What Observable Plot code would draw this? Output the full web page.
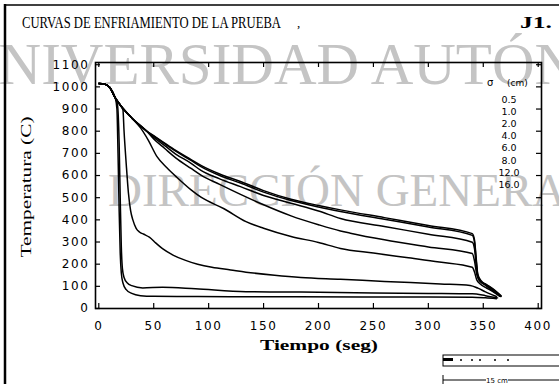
<!DOCTYPE html>
<html><head><meta charset="utf-8">
<script src="https://cdn.jsdelivr.net/npm/d3@7"></script>
<script src="https://cdn.jsdelivr.net/npm/@observablehq/plot@0.6"></script>
<style>
html,body{margin:0;padding:0;background:#fff;}
#wrap{position:relative;width:559px;height:384px;overflow:hidden;background:#fff;}
#wrap svg{position:absolute;left:0;top:0;}
#wrap g[aria-label$="tick label"]{letter-spacing:1.6px;}
</style></head><body><div id="wrap">
<svg id="wm" width="559" height="384">
  <text x="-44" y="84" font-family="Liberation Serif" font-size="59" fill="#c4c4c4">UNIVERSIDAD AUTÓNOMA DE NUEVO LEÓN</text>
  <text x="108" y="206" font-family="Liberation Serif" font-size="47" fill="#c4c4c4">DIRECCIÓN GENERAL DE BIBLIOTECAS</text>
</svg>
</div>
<script>
// Diámetros (cm)
const diameters = ["0.5", "1.0", "2.0", "4.0", "6.0", "8.0", "12.0", "16.0"];

// Tiempo (seg) y Temperatura (C) por curva
const t_05 = [0, 5, 10, 15, 16.5, 17.5, 18.5, 19.5, 20.5, 22, 25, 30, 38, 50, 80, 120, 180, 240, 300, 340, 352, 362];
const T_05 = [1015, 1013, 997, 950, 900, 700, 450, 250, 160, 115, 85, 68, 58, 55, 54, 53, 53, 52, 52, 51, 48, 44];

const t_10 = [0, 5, 10, 15, 17, 18.5, 19.5, 20.5, 21.5, 23, 26, 30, 40, 58, 88, 134, 184, 250, 300, 340, 352, 363];
const T_10 = [1015, 1013, 997, 950, 920, 750, 500, 280, 180, 140, 115, 103, 93, 96, 89, 76, 74, 70, 68, 66, 58, 48];

const t_20 = [0, 5, 10, 15, 20, 22, 23, 25, 27, 29, 31, 34, 37, 41, 46, 52, 58, 68, 79, 90, 103, 120, 134, 160, 184, 220, 260, 311, 338, 345, 352, 362];
const T_20 = [1015, 1013, 997, 950, 915, 895, 800, 650, 520, 440, 400, 362, 345, 335, 322, 295, 270, 240, 217, 200, 186, 174, 164, 150, 140, 132, 122, 111, 104, 92, 75, 54];

const t_40 = [0, 5, 10, 15, 20, 30, 38, 45, 53, 62, 71, 84, 93, 114, 134, 150, 175, 200, 220, 250, 280, 310, 340, 342, 344, 347, 352, 358, 365];
const T_40 = [1015, 1013, 997, 950, 915, 860, 815, 760, 685, 635, 592, 535, 502, 450, 392, 362, 325, 298, 271, 250, 230, 210, 186, 165, 130, 112, 95, 78, 55];

const t_60 = [0, 5, 10, 15, 20, 30, 43, 50, 60, 70, 84, 93, 110, 129, 150, 175, 200, 220, 229, 260, 300, 340, 342, 344, 346, 350, 358, 366];
const T_60 = [1015, 1013, 997, 950, 915, 860, 803, 765, 722, 680, 632, 602, 560, 515, 468, 418, 378, 350, 340, 310, 278, 248, 215, 155, 128, 112, 82, 54];

const t_80 = [0, 5, 10, 15, 20, 30, 43, 50, 60, 70, 84, 93, 110, 129, 150, 175, 200, 220, 260, 300, 340, 342, 343.5, 345, 348, 353, 360, 366];
const T_80 = [1015, 1013, 997, 950, 915, 860, 803, 772, 735, 697, 655, 623, 585, 550, 510, 475, 440, 406, 370, 335, 299, 270, 200, 145, 120, 105, 80, 56];

const t_120 = [0, 5, 10, 15, 20, 30, 43, 50, 60, 70, 84, 93, 110, 129, 150, 175, 200, 220, 260, 300, 340, 342, 343.5, 345, 348, 353, 360, 366];
const T_120 = [1015, 1013, 997, 950, 915, 860, 803, 778, 743, 710, 668, 640, 600, 566, 525, 487, 458, 438, 403, 368, 330, 300, 220, 150, 122, 106, 82, 56];

const t_160 = [0, 5, 10, 15, 20, 30, 43, 50, 60, 70, 84, 93, 110, 129, 150, 175, 200, 220, 260, 300, 340, 342, 343.5, 345, 348, 353, 360, 366];
const T_160 = [1015, 1013, 997, 950, 915, 860, 803, 780, 746, 713, 672, 646, 607, 573, 532, 493, 465, 445, 410, 375, 338, 310, 230, 155, 125, 108, 84, 58];

// Etiquetas de ejes
const xTicks = [0, 50, 100, 150, 200, 250, 300, 350, 400];
const yTicks = [0, 100, 200, 300, 400, 500, 600, 700, 800, 900, 1000, 1100];

const seriesT = [t_05, t_10, t_20, t_40, t_60, t_80, t_120, t_160];
const seriesY = [T_05, T_10, T_20, T_40, T_60, T_80, T_120, T_160];
const rows = diameters.flatMap((d, i) => seriesT[i].map((t, j) => ({d, t, T: seriesY[i][j]})));

const chart = Plot.plot({
  width: 559, height: 384,
  marginLeft: 95, marginRight: 18, marginTop: 62, marginBottom: 76,
  x: {domain: [-3, 403]},
  y: {domain: [0, 1110]},
  style: {fontFamily: "DejaVu Sans", fontSize: "12px", background: "transparent", color: "#000", overflow: "visible"},
  marks: [
    Plot.axisX({ticks: xTicks, tickSize: 0, tickPadding: 13, label: null, fontSize: 12, tickFormat: d => String(d)}),
    Plot.axisY({ticks: yTicks, tickSize: 0, tickPadding: 6, label: null, fontSize: 12, tickFormat: d => String(d)}),
    Plot.tickX(xTicks, {x: d => d, insetTop: 241, stroke: "#000", strokeWidth: 1.2}),
    Plot.tickX(xTicks, {x: d => d, insetBottom: 241, stroke: "#000", strokeWidth: 1.2}),
    Plot.tickY(yTicks, {y: d => d, insetRight: 441, stroke: "#000", strokeWidth: 1.2}),
    Plot.tickY(yTicks, {y: d => d, insetLeft: 441, stroke: "#000", strokeWidth: 1.2}),
    Plot.line(rows, {x: "t", y: "T", z: "d", stroke: "#000", strokeWidth: 1.5, curve: "monotone-x"}),
    Plot.frame({stroke: "#000", strokeWidth: 1.6})
  ]
});
document.getElementById("wrap").appendChild(chart);

// Textos y decoraciones
const ns = "http://www.w3.org/2000/svg";
const ov = document.createElementNS(ns, "svg");
ov.setAttribute("width", 559); ov.setAttribute("height", 384);
const legendY = [99, 111, 123, 135.5, 147.5, 160, 172, 184];
ov.innerHTML = `
  <line x1="4" y1="5" x2="559" y2="5" stroke="#000" stroke-width="1.3"/>
  <line x1="5" y1="4" x2="5" y2="384" stroke="#000" stroke-width="2.5"/>
  <text x="22" y="28" font-family="Liberation Serif" font-size="17" textLength="259" lengthAdjust="spacingAndGlyphs">CURVAS DE ENFRIAMIENTO DE LA PRUEBA</text>
  <text x="297" y="27" font-family="Liberation Serif" font-size="13">,</text>
  <text x="520" y="28" font-family="Liberation Serif" font-size="17" font-weight="bold" textLength="32" lengthAdjust="spacingAndGlyphs">J1.</text>
  <text transform="translate(31,187) rotate(-90)" text-anchor="middle" font-family="Liberation Serif" font-size="15" textLength="141" lengthAdjust="spacingAndGlyphs">Temperatura  (C)</text>
  <text x="319" y="350" text-anchor="middle" font-family="Liberation Serif" font-size="15" font-weight="bold" textLength="118" lengthAdjust="spacingAndGlyphs">Tiempo  (seg)</text>
  <text x="487" y="86" font-family="DejaVu Sans" font-size="10">σ</text>
  <text x="507" y="86" font-family="DejaVu Sans" font-size="9">(cm)</text>
  ${diameters.map((d, i) => `<text x="509" y="${legendY[i] + 3.5}" text-anchor="middle" font-family="DejaVu Sans" font-size="9.5">${d}</text>`).join("")}
  <rect x="443" y="355" width="120" height="11" fill="none" stroke="#000" stroke-width="1"/>
  <rect x="443" y="358" width="10" height="3" fill="#000"/>
  <g fill="#000"><circle cx="461" cy="360" r="1"/><circle cx="472" cy="360" r="1"/><circle cx="480" cy="360" r="1"/><circle cx="495" cy="360" r="1"/><circle cx="508" cy="360" r="1"/></g>
  <line x1="443" y1="375" x2="443" y2="384" stroke="#000" stroke-width="1"/>
  <line x1="443" y1="380" x2="486" y2="380" stroke="#000" stroke-width="1"/>
  <text x="497" y="383" text-anchor="middle" font-family="DejaVu Sans" font-size="7">15 cm</text>
  <line x1="508" y1="380" x2="559" y2="380" stroke="#000" stroke-width="1"/>
`;
document.getElementById("wrap").appendChild(ov);
</script>
</body></html>
